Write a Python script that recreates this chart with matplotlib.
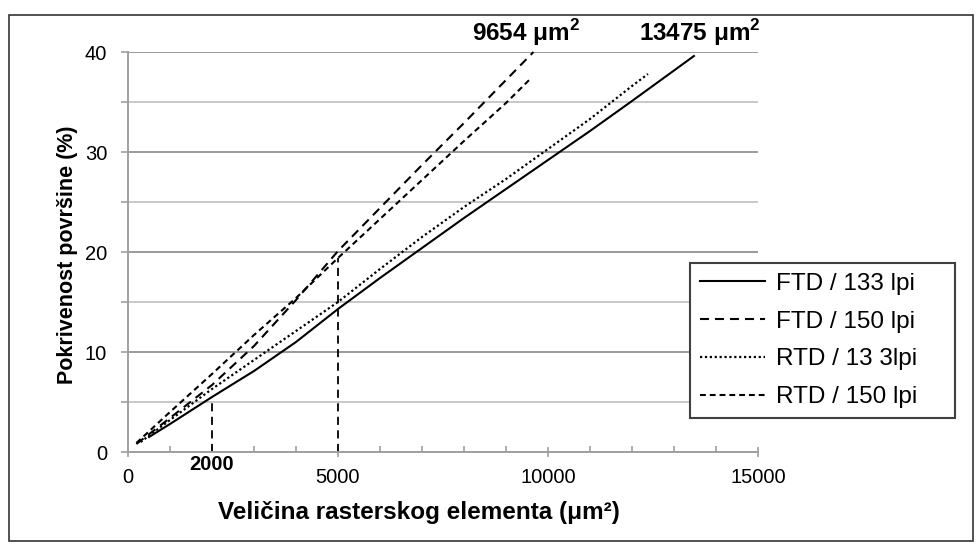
import matplotlib
matplotlib.use('Agg')
import matplotlib.pyplot as plt
from matplotlib.ticker import MultipleLocator
from matplotlib.patches import Rectangle

plt.rcParams['font.family'] = ['Liberation Sans', 'DejaVu Sans']
plt.rcParams['mathtext.fontset'] = 'custom'
plt.rcParams['mathtext.rm'] = 'Liberation Sans'
plt.rcParams['mathtext.bf'] = 'Liberation Sans:bold'

# Data (x in um^2, y in %)
ftd133_x = [500, 1000, 2000, 3000, 4000, 5000, 6000, 7000, 8000, 9000, 10000, 11000, 12000, 13475]
ftd133_y = [1.5, 2.8, 5.5, 8.1, 11.0, 14.3, 17.4, 20.4, 23.4, 26.3, 29.2, 32.1, 35.1, 39.6]

ftd150_x = [200, 1000, 2000, 3000, 4000, 5000, 6000, 7000, 8000, 9000, 9654]
ftd150_y = [0.8, 3.4, 6.7, 10.6, 15.2, 20.1, 24.4, 28.7, 32.9, 37.2, 40.0]

rtd133_x = [300, 1000, 2000, 3000, 4000, 5000, 6000, 7000, 8000, 9000, 10000, 11000, 12000, 12380]
rtd133_y = [1.0, 3.2, 6.3, 9.2, 12.1, 15.0, 18.3, 21.5, 24.5, 27.3, 30.3, 33.3, 36.6, 37.8]

rtd150_x = [200, 1000, 2000, 3000, 4000, 5000, 6000, 7000, 8000, 9000, 9600]
rtd150_y = [0.9, 4.0, 7.8, 11.7, 15.4, 19.4, 23.3, 27.2, 31.1, 34.9, 37.4]

labels = ['FTD / 133 lpi', 'FTD / 150 lpi', 'RTD / 13 3lpi', 'RTD / 150 lpi']

# reference drop lines and end annotations
marker_x = [2000, 5000]
marker_top = [5.5, 19.4]
end_x = [9480, 13620]
end_text = ['9654 μm$^{\\mathbf{2}}$', '13475 μm$^{\\mathbf{2}}$']

fig = plt.figure(figsize=(9.79, 5.47), dpi=100)
ax = fig.add_axes([128 / 979, 1 - 452 / 547, 630 / 979, 400 / 547])

lw = 1.5
ax.plot(ftd133_x, ftd133_y, color='black', lw=lw, label=labels[0], clip_on=False)
ax.plot(ftd150_x, ftd150_y, color='black', lw=lw, dashes=(4.3, 2.9), label=labels[1], clip_on=False)
ax.plot(rtd133_x, rtd133_y, color='black', lw=1.6, dashes=(1, 1.2), label=labels[2], clip_on=False)
ax.plot(rtd150_x, rtd150_y, color='black', lw=lw, dashes=(2.8, 1.9), label=labels[3], clip_on=False)

for mx, mt in zip(marker_x, marker_top):
    ax.plot([mx, mx], [0, mt], color='black', lw=1.3, dashes=(4.5, 3))

ax.set_xlim(0, 15000)
ax.set_ylim(0, 40)
ax.xaxis.set_major_locator(MultipleLocator(5000))
ax.xaxis.set_minor_locator(MultipleLocator(1000))
ax.yaxis.set_major_locator(MultipleLocator(10))
ax.yaxis.set_minor_locator(MultipleLocator(5))

ax.yaxis.grid(True, which='major', color='#9a9a9a', lw=1.4)
ax.yaxis.grid(True, which='minor', color='#c8c8c8', lw=1.4)
ax.set_axisbelow(True)

for side in ['top', 'right']:
    ax.spines[side].set_visible(False)
for side in ['left', 'bottom']:
    ax.spines[side].set_color('#a0a0a0')
    ax.spines[side].set_linewidth(1.4)

ax.tick_params(axis='x', which='major', direction='inout', length=7, width=1.2,
               color='#a0a0a0', labelsize=14.5, pad=8)
ax.tick_params(axis='x', which='minor', direction='in', length=4, width=1.2, color='#a0a0a0')
ax.tick_params(axis='y', which='both', direction='out', length=5, width=1.2,
               color='#a0a0a0', labelsize=14.5, pad=10)

ax.text(2000, -1.25, '2000', ha='center', va='center', fontsize=14.5, fontweight='bold')

for ex, et in zip(end_x, end_text):
    ax.text(ex, 40.4, et, ha='center', va='bottom', fontsize=17.5, fontweight='bold')

fig.text(419 / 979, 1 - 513 / 547, 'Veličina rasterskog elementa (μm²)',
         ha='center', va='center', fontsize=17.5, fontweight='bold')
fig.text(68 / 979, 1 - 255 / 547, 'Pokrivenost površine (%)', rotation=90,
         ha='center', va='center', fontsize=15.5, fontweight='bold')

leg = ax.legend(loc='upper left',
                bbox_to_anchor=(690 / 979, 1 - 416 / 547, 265 / 979, 153 / 547),
                bbox_transform=fig.transFigure, mode='expand', borderaxespad=0,
                fontsize=17.5, handlelength=2.7, handletextpad=0.45, labelspacing=0.65,
                borderpad=0.4, fancybox=False, framealpha=1)
leg.get_frame().set_edgecolor('#404040')
leg.get_frame().set_linewidth(1.5)

fig.patches.append(Rectangle((9 / 979, 6 / 547), 964 / 979, 526 / 547,
                             transform=fig.transFigure, fill=False,
                             edgecolor='#333333', lw=1.2))

fig.savefig('out.png', dpi=100)
